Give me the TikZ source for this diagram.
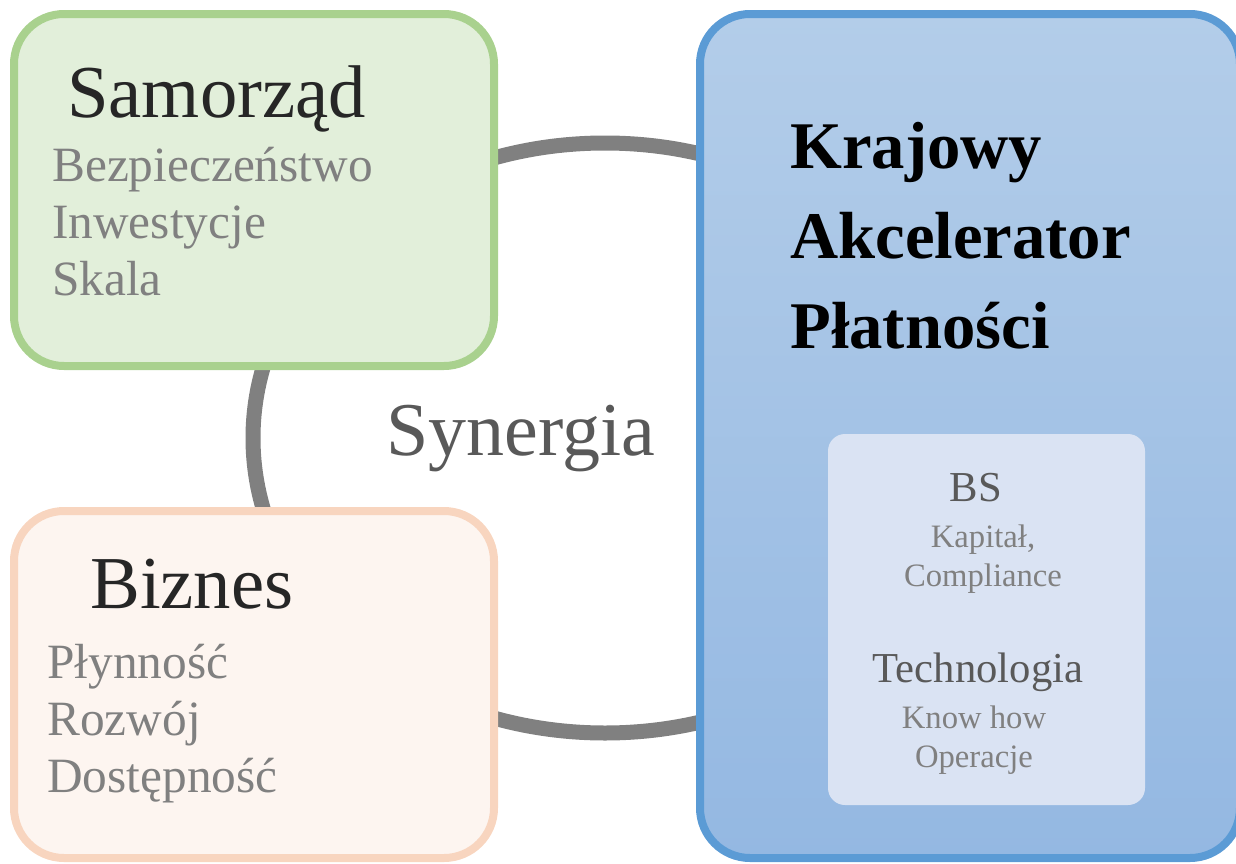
\documentclass[tikz,border=0pt]{standalone}
\usepackage{fontspec}
\setmainfont{Liberation Serif}
\definecolor{ringgray}{HTML}{808080}
\definecolor{samfill}{HTML}{E2EFDA}
\definecolor{samline}{HTML}{A9D18E}
\definecolor{bizfill}{HTML}{FDF5F0}
\definecolor{bizline}{HTML}{F8D5BF}
\definecolor{kaptop}{HTML}{B3CDE9}
\definecolor{kapbot}{HTML}{94B8E2}
\definecolor{kapline}{HTML}{5B9BD5}
\definecolor{bsfill}{HTML}{DAE3F3}
\definecolor{titletext}{HTML}{262626}
\definecolor{darkgray}{HTML}{595959}
\definecolor{itemgray}{HTML}{808080}
\begin{document}
\begin{tikzpicture}[x=0.75pt,y=-0.75pt,
  pole/.style={rounded corners=37.5pt,line width=6pt,inner sep=0pt},
  title/.style={anchor=base west,inner sep=0pt,text=titletext,font=\fontsize{56}{60}\selectfont},
  items/.style={anchor=base west,inner sep=0pt,align=left,text=itemgray,font=\fontsize{37}{42.75}\selectfont},
  subhead/.style={anchor=base,text=darkgray,font=\fontsize{32}{36}\selectfont},
  subitems/.style={anchor=base,align=center,text=itemgray,font=\fontsize{24.5}{28.8}\selectfont}]

\useasboundingbox (0,0) rectangle (1236,864);

% ring behind the boxes
\draw[ringgray,line width=11.25pt] (605,438) ellipse [x radius=352, y radius=295];

\node[pole,fill=samfill,draw=samline,minimum width=360pt,minimum height=264pt] (samorzad) at (254,190) {};
\node[pole,fill=bizfill,draw=bizline,minimum width=360pt,minimum height=260.25pt] (biznes) at (254,684.5) {};
\node[pole,draw=kapline,top color=kaptop,bottom color=kapbot,minimum width=405pt,minimum height=633pt] (kap) at (970,436) {};
\node[fill=bsfill,rounded corners=12.75pt,inner sep=0pt,minimum width=237.75pt,minimum height=278.25pt] (bsbox) at (986.5,619.5) {};

% multi-line texts sit on the baseline of their last line
\node[title] (samtitle) at (67,117) {Samorząd};
\node[items] (samitems) at (52,295) {Bezpieczeństwo\\Inwestycje\\Skala};
\node[title] (biztitle) at (90,608) {Biznes};
\node[items] (bizitems) at (47,792) {Płynność\\Rozwój\\Dostępność};

\node[anchor=base west,inner sep=0pt,align=left,font=\fontsize{50}{67.5}\selectfont\bfseries] (kaptitle) at (790,348) {Krajowy\\Akcelerator\\Płatności};

\node[anchor=base,text=darkgray,font=\fontsize{57}{60}\selectfont] (synergia) at (521,455) {Synergia};

\node[subhead] (bs) at (976,501) {BS};
\node[subitems] (bsitems) at (983,586) {Kapitał,\\Compliance};
\node[subhead] (tech) at (978,682) {Technologia};
\node[subitems] (techitems) at (974,767) {Know how\\Operacje};
\end{tikzpicture}
\end{document}
